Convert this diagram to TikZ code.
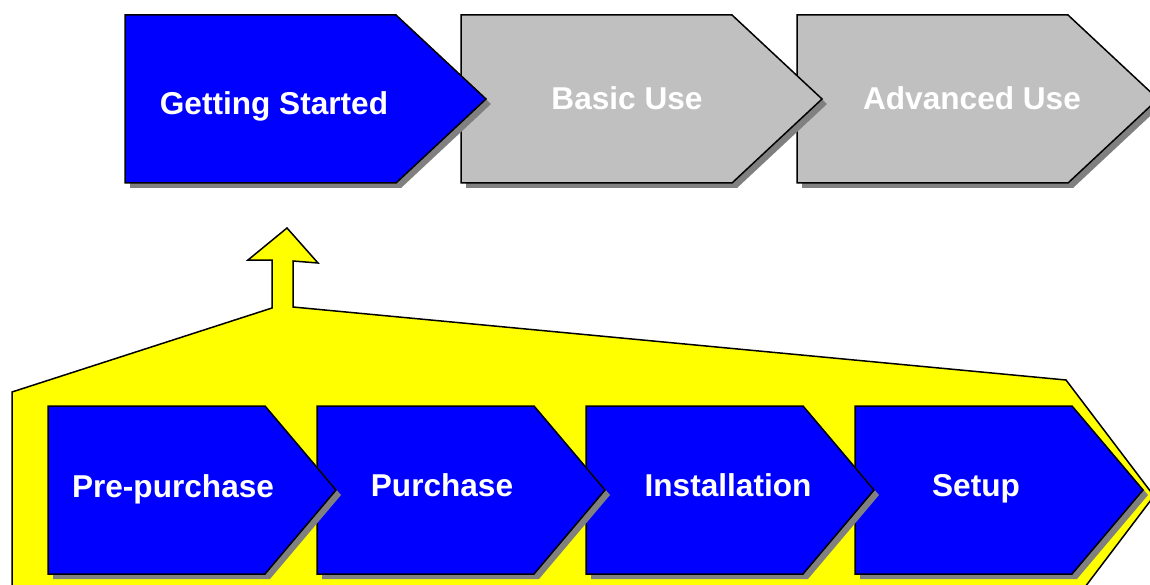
\documentclass[tikz,border=0pt]{standalone}
\usepackage{fontspec}
\setmainfont{Liberation Sans}
\definecolor{chevblue}{RGB}{0,0,255}
\definecolor{chevgray}{RGB}{192,192,192}
\definecolor{shadowgray}{RGB}{128,128,128}
\definecolor{bandyellow}{RGB}{255,255,0}
\newcommand\mychev[6]{%
  \fill[shadowgray,shift={(5,5)}] (#1,#2) -- ++(#3,0) -- ++(#4,#5/2) -- ++(-#4,#5/2) -- ++(-#3,0) -- cycle;
  \draw[outline,fill=#6] (#1,#2) -- ++(#3,0) -- ++(#4,#5/2) -- ++(-#4,#5/2) -- ++(-#3,0) -- cycle;}
\begin{document}
\begin{tikzpicture}[x=1pt,y=-1pt,
  outline/.style={draw=black,line width=1.5pt,line join=miter},
  lbl/.style={text=white,font=\fontsize{31.6}{38}\selectfont\bfseries,inner sep=0pt,anchor=base}]
\useasboundingbox (0,0) rectangle (1150,585);
\begin{scope}
\clip (0,0) rectangle (1150,585);
% top row (right to left so each tip overlaps the next)
\mychev{797}{15}{271}{90}{168}{chevgray}
\mychev{461}{15}{271}{90}{168}{chevgray}
\mychev{125}{15}{271}{90}{168}{chevblue}
% yellow band with up arrow
\draw[outline,fill=bandyellow] (12,620) -- (12,392) -- (272,308) -- (272,260) -- (248,260)
  -- (287,228) -- (318,263) -- (293,261) -- (293,307) -- (1066,380) -- (1154,496) -- (1060,620) -- cycle;
% bottom row
\mychev{855}{406}{217}{71}{168}{chevblue}
\mychev{586}{406}{217}{71}{168}{chevblue}
\mychev{317}{406}{217}{71}{168}{chevblue}
\mychev{48}{406}{217}{71}{168}{chevblue}
\end{scope}
\node[lbl] (gs) at (274,115) {Getting Started};
\node[lbl] (bu) at (627,110) {Basic Use};
\node[lbl] (au) at (972,110) {Advanced Use};
\node[lbl] (pp) at (173,497) {Pre-purchase};
\node[lbl] (pu) at (442,496) {Purchase};
\node[lbl] (in) at (728,496) {Installation};
\node[lbl] (se) at (976,496) {Setup};
\end{tikzpicture}
\end{document}
